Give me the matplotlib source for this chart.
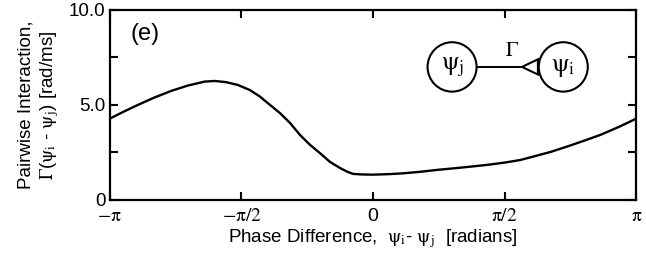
import numpy as np
import matplotlib
matplotlib.use("Agg")
import matplotlib.pyplot as plt
from matplotlib.patches import Ellipse, Polygon

plt.rcParams['font.family'] = ['Liberation Sans', 'DejaVu Sans']
plt.rcParams['mathtext.fontset'] = 'stix'

# values
phase = [-3.142, -2.974, -2.807, -2.604, -2.401, -2.210, -2.007, -1.887,
         -1.756, -1.613, -1.469, -1.350, -1.230, -1.111, -0.991, -0.872,
         -0.753, -0.633, -0.514, -0.394, -0.311, -0.239, -0.131, 0.0,
         0.203, 0.358, 0.561, 0.764, 0.980, 1.159, 1.374, 1.577, 1.756,
         1.911, 2.114, 2.317, 2.508, 2.711, 2.927, 3.142]
gamma = [4.28, 4.65, 5.0, 5.4, 5.75, 6.02, 6.23, 6.26,
         6.2, 6.05, 5.78, 5.44, 5.0, 4.57, 4.05, 3.42,
         2.9, 2.46, 2.0, 1.68, 1.49, 1.37, 1.34, 1.33,
         1.36, 1.40, 1.48, 1.58, 1.67, 1.75, 1.85, 1.97, 2.1,
         2.28, 2.52, 2.81, 3.1, 3.42, 3.83, 4.28]

xticks = [-np.pi, -np.pi / 2, 0, np.pi / 2, np.pi]
xlabels = [r'$-\mathrm{\pi}$', r'$-\mathrm{\pi}/2$', '0', r'$\mathrm{\pi}/2$', r'$\mathrm{\pi}$']
yticks = [0, 5, 10]
ylabels = ['0', '5.0', '10.0']

fig = plt.figure(figsize=(6.46, 2.61), dpi=100)
ax = fig.add_axes([0.170, 0.234, 0.815, 0.728])

ax.plot(phase, gamma, color='black', lw=1.7)

ax.set_xlim(-np.pi, np.pi)
ax.set_ylim(0, 10)
ax.set_xticks(xticks)
ax.set_xticklabels(xlabels, fontsize=14)
ax.set_yticks(yticks)
ax.set_yticklabels(ylabels, fontsize=13.5)
ax.set_yticks([2.5, 7.5], minor=True)
ax.tick_params(which='both', direction='in', length=6, width=1.5,
               top=True, right=True, pad=6)
ax.tick_params(axis='y', pad=3)
for s in ax.spines.values():
    s.set_linewidth(1.6)

ax.set_xlabel(r'Phase Difference,  $\mathrm{\psi_i}$- $\mathrm{\psi_j}$  [radians]',
              fontsize=13.5, labelpad=1)
ax.set_ylabel('Pairwise Interaction,\n' + r'$\mathrm{\Gamma}$($\mathrm{\psi_i}$ - $\mathrm{\psi_j}$) [rad/ms]',
              fontsize=13.5, labelpad=6)

ax.text(0.04, 0.84, '(e)', transform=ax.transAxes, fontsize=17)

# inset diagram: two oscillators coupled by Gamma
cx_j, cx_i, cy = 0.943, 2.27, 7.0
w, h = 0.585, 2.6
ax.add_patch(Ellipse((cx_j, cy), w, h, fill=False, lw=1.5, color='black'))
ax.add_patch(Ellipse((cx_i, cy), w, h, fill=False, lw=1.5, color='black'))
ax.text(cx_j, cy, r'$\mathrm{\psi_j}$', ha='center', va='center', fontsize=18)
ax.text(cx_i, cy, r'$\mathrm{\psi_i}$', ha='center', va='center', fontsize=18)
tip = cx_i - w / 2 - 0.2
ax.plot([cx_j + w / 2, tip], [cy, cy], color='black', lw=1.4)
ax.add_patch(Polygon([[tip, cy], [cx_i - w / 2 - 0.01, cy + 0.4],
                      [cx_i - w / 2 - 0.01, cy - 0.4]], closed=True,
                     fill=False, lw=1.5, color='black'))
ax.text((cx_j + cx_i) / 2 + 0.05, cy + 0.35, r'$\mathrm{\Gamma}$', ha='center', va='bottom',
        fontsize=15)

fig.savefig('out.png', dpi=100)
